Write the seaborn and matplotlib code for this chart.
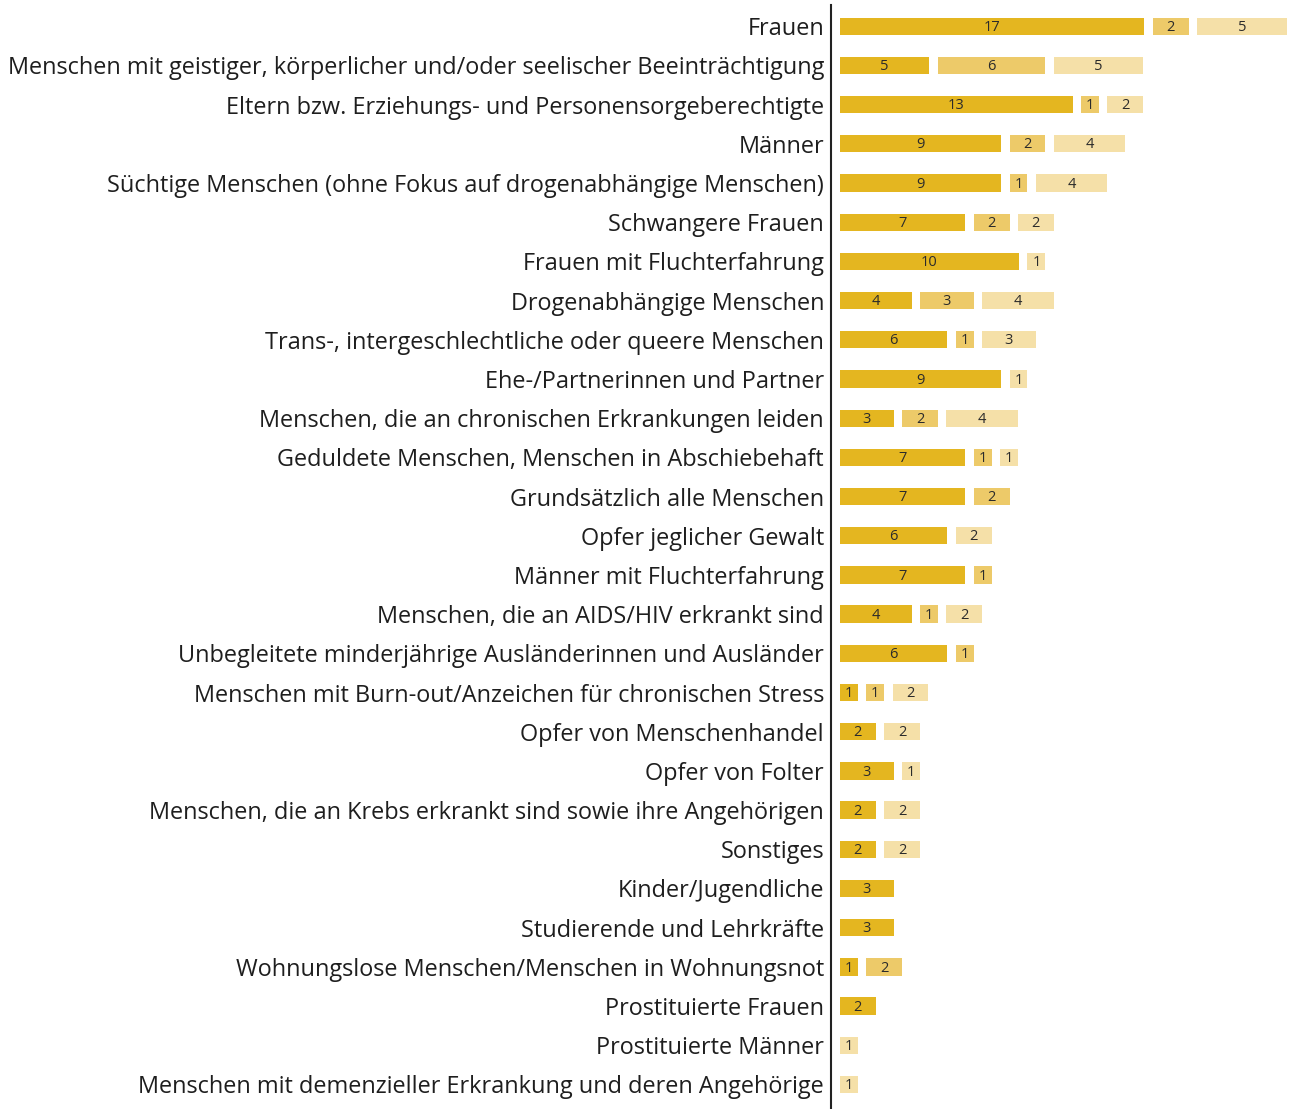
import matplotlib
matplotlib.use("Agg")
import matplotlib.pyplot as plt
import seaborn as sns
import pandas as pd
import numpy as np

categories = [
    "Frauen",
    "Menschen mit geistiger, körperlicher und/oder seelischer Beeinträchtigung",
    "Eltern bzw. Erziehungs- und Personensorgeberechtigte",
    "Männer",
    "Süchtige Menschen (ohne Fokus auf drogenabhängige Menschen)",
    "Schwangere Frauen",
    "Frauen mit Fluchterfahrung",
    "Drogenabhängige Menschen",
    "Trans-, intergeschlechtliche oder queere Menschen",
    "Ehe-/Partnerinnen und Partner",
    "Menschen, die an chronischen Erkrankungen leiden",
    "Geduldete Menschen, Menschen in Abschiebehaft",
    "Grundsätzlich alle Menschen",
    "Opfer jeglicher Gewalt",
    "Männer mit Fluchterfahrung",
    "Menschen, die an AIDS/HIV erkrankt sind",
    "Unbegleitete minderjährige Ausländerinnen und Ausländer",
    "Menschen mit Burn-out/Anzeichen für chronischen Stress",
    "Opfer von Menschenhandel",
    "Opfer von Folter",
    "Menschen, die an Krebs erkrankt sind sowie ihre Angehörigen",
    "Sonstiges",
    "Kinder/Jugendliche",
    "Studierende und Lehrkräfte",
    "Wohnungslose Menschen/Menschen in Wohnungsnot",
    "Prostituierte Frauen",
    "Prostituierte Männer",
    "Menschen mit demenzieller Erkrankung und deren Angehörige",
]

series_a = [17, 5, 13, 9, 9, 7, 10, 4, 6, 9, 3, 7, 7, 6, 7, 4, 6, 1, 2, 3, 2, 2, 3, 3, 1, 2, 0, 0]
series_b = [2, 6, 1, 2, 1, 2, 0, 3, 1, 0, 2, 1, 2, 0, 1, 1, 1, 1, 0, 0, 0, 0, 0, 0, 2, 0, 0, 0]
series_c = [5, 5, 2, 4, 4, 2, 1, 4, 3, 1, 4, 1, 0, 2, 0, 2, 0, 2, 2, 1, 2, 2, 0, 0, 0, 0, 1, 1]

colors = ["#E4B620", "#EDCA69", "#F5E0A8"]

sns.set_theme(style="white")
plt.rcParams["font.family"] = ["Open Sans", "DejaVu Sans"]

fig = plt.figure(figsize=(12.93, 11.09), dpi=100)
ax = fig.add_axes([831 / 1293, 1 - 1108 / 1109, 1 - 831 / 1293, 1103 / 1109])

gap = 0.47
height = 0.44
y = np.arange(len(categories))
pos = np.zeros(len(categories))

# segments side by side with a small gap between the ones that exist
for vals, col in zip([series_a, series_b, series_c], colors):
    vals = np.array(vals, dtype=float)
    mask = vals > 0
    ax.barh(y[mask], vals[mask], left=pos[mask], height=height, color=col, linewidth=0)
    for yi, left, v in zip(y[mask], pos[mask], vals[mask]):
        ax.text(left + v / 2, yi + 0.03, f"{int(v)}", ha="center", va="center",
                fontsize=10.5, color="#2b2b2b")
    pos = np.where(mask, pos + vals + gap, pos)

ax.set_yticks(y)
ax.set_yticklabels(categories, fontsize=16.9, color="#1e1e1e")
ax.tick_params(axis="y", length=0, pad=5)
ax.set_xticks([])
ax.set_xlim(-0.5, 25.3)
ax.set_ylim(len(categories) - 0.4, -0.54)

for s in ["top", "right", "bottom"]:
    ax.spines[s].set_visible(False)
ax.spines["left"].set_color("#222222")
ax.spines["left"].set_linewidth(1.5)

fig.savefig("out.png", dpi=100)
